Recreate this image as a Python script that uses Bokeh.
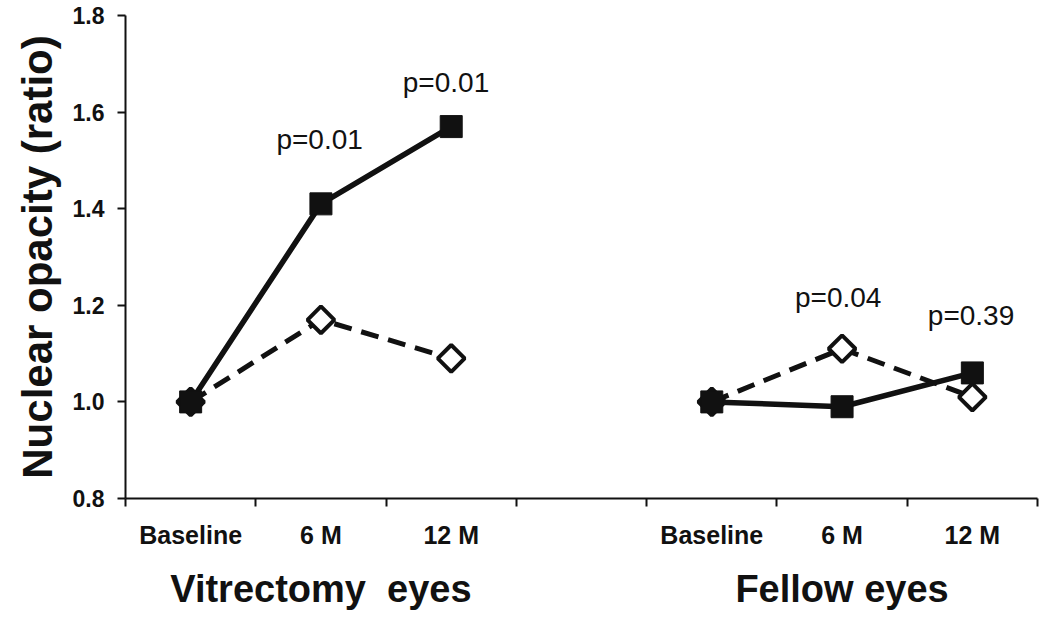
import math
from bokeh.plotting import figure
from bokeh.models import FixedTicker, Range1d, PrintfTickFormatter, LinearAxis
from bokeh.core.properties import value
from bokeh.embed import file_html
from bokeh.resources import INLINE

# ---- data ----
timepoints = ["Baseline", "6 M", "12 M"]
groups = ["Vitrectomy\u00a0 eyes", "Fellow eyes"]
group_start = [0, 4]          # category slot where each group starts (slot 3 is an empty gap)
n_slots = 7
solid_vit = [1.00, 1.41, 1.57]
dashed_vit = [1.00, 1.17, 1.09]
solid_fel = [1.00, 0.99, 1.06]
dashed_fel = [1.00, 1.11, 1.01]
p_texts = ["p=0.01", "p=0.01", "p=0.04", "p=0.39"]
p_x = [1.49, 2.46, 5.47, 6.49]
p_y = [1.543, 1.661, 1.216, 1.179]
y_ticks = [0.8, 1.0, 1.2, 1.4, 1.6, 1.8]

FONT = "Liberation Sans"
INK = "#111111"

p = figure(width=1050, height=619, x_range=Range1d(0, n_slots), y_range=Range1d(0.8, 1.8),
           output_backend="svg", toolbar_location=None,
           min_border_left=125, min_border_right=13, min_border_top=15, min_border_bottom=121)
p.xgrid.visible = False
p.ygrid.visible = False
p.outline_line_color = None
p.background_fill_color = "white"
p.border_fill_color = "white"

cat_x = []
cat_labels = {}
for g, start in enumerate(group_start):
    for i, t in enumerate(timepoints):
        xv = start + i + 0.5
        cat_x.append(xv)
        cat_labels[xv] = t

# x axis (tick marks between categories, labels at category centres)
xa = p.xaxis[0]
xa.ticker = FixedTicker(ticks=cat_x, minor_ticks=list(range(n_slots + 1)))
xa.major_label_overrides = cat_labels
xa.major_tick_line_color = None
xa.major_tick_in = 0
xa.major_tick_out = 0
xa.minor_tick_in = 0
xa.minor_tick_out = 8
xa.minor_tick_line_width = 2
xa.minor_tick_line_color = INK
xa.axis_line_width = 2
xa.axis_line_color = INK
xa.major_label_text_font = FONT
xa.major_label_text_font_style = "bold"
xa.major_label_text_font_size = "25px"
xa.major_label_text_color = INK
xa.major_label_standoff = 14

# group-name axis below the category axis
group_x = [start + 1.5 for start in group_start]
ga = LinearAxis(ticker=FixedTicker(ticks=group_x, minor_ticks=[]),
                major_label_overrides={gx: g for gx, g in zip(group_x, groups)})
ga.axis_line_color = None
ga.major_tick_line_color = None
ga.minor_tick_line_color = None
ga.major_tick_in = 0
ga.major_tick_out = 0
ga.minor_tick_in = 0
ga.minor_tick_out = 0
ga.major_label_text_font = FONT
ga.major_label_text_font_style = "bold"
ga.major_label_text_font_size = "38px"
ga.major_label_text_color = INK
ga.major_label_standoff = 16
p.add_layout(ga, "below")

# y axis
ya = p.yaxis[0]
ya.ticker = FixedTicker(ticks=y_ticks)
ya.formatter = PrintfTickFormatter(format="%.1f")
ya.minor_tick_line_color = None
ya.major_tick_in = 0
ya.major_tick_out = 8
ya.major_tick_line_width = 2
ya.major_tick_line_color = INK
ya.axis_line_width = 2
ya.axis_line_color = INK
ya.major_label_text_font = FONT
ya.major_label_text_font_style = "bold"
ya.major_label_text_font_size = "23px"
ya.major_label_text_color = INK
ya.major_label_standoff = 13
ya.axis_label = "Nuclear opacity (ratio)"
ya.axis_label_text_font = FONT
ya.axis_label_text_font_style = "bold"
ya.axis_label_text_font_size = "42px"
ya.axis_label_text_color = INK
ya.axis_label_standoff = 9

# series
series = [(solid_vit, dashed_vit), (solid_fel, dashed_fel)]
for (solid, dashed), start in zip(series, group_start):
    xs = [start + i + 0.5 for i in range(len(timepoints))]
    p.line(xs, dashed, line_color=INK, line_width=5, line_dash="18 10")
    p.scatter(xs, dashed, marker="square", angle=math.pi / 4, size=19,
              fill_color="white", line_color=INK, line_width=4)
    p.line(xs, solid, line_color=INK, line_width=5.5)
    p.scatter(xs, solid, marker="square", size=22, fill_color=INK, line_color=INK)

# p-value annotations
p.text(p_x, p_y, text=p_texts, text_font=value(FONT), text_font_size="28px",
       text_color=INK, text_align="center", text_baseline="middle")

open("out.html", "w").write(file_html(p, INLINE))
